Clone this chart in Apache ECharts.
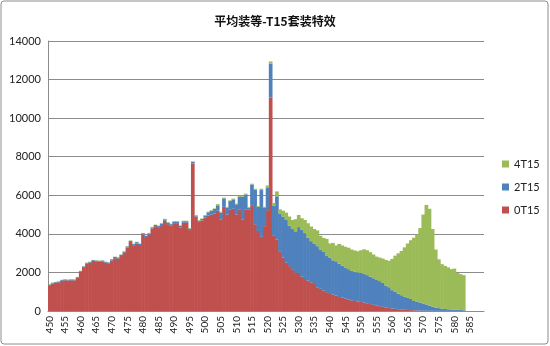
<!DOCTYPE html>
<html><head><meta charset="utf-8">
<script src="https://cdn.jsdelivr.net/npm/echarts@6/dist/echarts.min.js"></script>
<style>html,body{margin:0;padding:0;background:#fff}#c{width:550px;height:346px}</style>
</head><body><div id="c"></div>
<script>
// categories 450..589
var categories = [];
for (var c = 450; c <= 589; c++) categories.push(String(c));

var seriesNames = ['0T15', '2T15', '4T15'];

var red0T15 = [
1335,1420,1455,1490,1565,1595,1575,1595,1585,1715,
2035,2275,2455,2505,2595,2575,2555,2575,2505,2475,
2620,2740,2710,2850,3020,3290,3580,3410,3510,3420,
3970,3835,3970,4280,4400,4345,4455,4675,4505,4425,
4555,4555,4335,4575,4575,4195,7650,4900,4650,4700,
4850,4950,5000,5050,5200,4750,5400,5000,5250,5300,
5000,5250,4750,5250,5250,5450,4500,4150,3850,4400,
5230,11060,3900,3700,3100,2770,2500,2330,2170,2000,
1970,1780,1660,1575,1490,1400,1230,1150,1060,980,
930,860,810,725,690,640,600,555,520,500,
470,440,400,360,320,290,250,215,185,160,
130,110,95,80,65,55,45,35,28,22,
18,15,12,10,8,6,5,5,4,4,
3,3,2,2
];

var blue2T15 = [
40,40,40,40,40,40,40,40,40,40,
40,40,40,40,40,40,40,40,40,40,
60,60,60,60,60,60,60,60,60,60,
60,60,60,60,60,60,80,80,80,80,
80,80,80,80,80,80,80,50,40,70,
100,170,200,240,280,360,440,360,450,490,
530,680,1180,795,110,1110,1790,1240,2420,940,
1180,1760,1550,2250,1960,2130,2220,2090,2080,2130,
2380,2430,2380,2215,2130,2080,2130,2040,2000,1870,
1840,1770,1770,1735,1650,1620,1570,1535,1510,1500,
1500,1490,1460,1420,1380,1320,1300,1240,1135,1075,
950,880,805,740,675,625,575,485,442,418,
372,325,268,220,172,144,120,100,86,76,
67,57,48,38
];

var green4T15 = [
15,15,15,15,15,15,15,15,15,15,
15,15,15,15,15,15,15,15,15,15,
20,20,20,20,20,20,20,20,20,20,
20,20,20,20,20,20,25,25,25,25,
25,25,25,25,25,25,30,30,30,30,
30,30,30,30,60,40,40,40,40,40,
40,40,40,40,40,40,50,50,70,60,
100,120,150,250,210,300,380,480,470,630,
630,600,680,760,760,770,820,710,730,890,
730,900,820,1020,1060,1070,1110,1100,1110,1100,
1180,1270,1290,1270,1230,1210,1220,1265,1330,1365,
1620,1880,2090,2290,2560,2820,3050,3280,3490,3860,
4610,5160,5020,4020,3010,2530,2305,2235,2170,2090,
2130,1910,1860,1820
];

var colors = ['#C0504D', '#4F81BD', '#9BBB59'];
var chart = echarts.init(document.getElementById('c'), null, {renderer: 'canvas'});
var gridCol = '#8c8c8c';
chart.setOption({
  animation: false,
  backgroundColor: '#ffffff',
  title: {
    text: '平均装等-T15套装特效',
    left: 'center', top: 10,
    textStyle: {fontFamily: 'Noto Sans CJK SC', fontSize: 12, fontWeight: 'bold', color: '#111'}
  },
  graphic: [{
    type: 'rect', shape: {x: 1, y: 1, width: 547, height: 343, r: 3},
    style: {fill: 'none', stroke: '#8c8c8c', lineWidth: 1}, silent: true
  }],
  legend: {
    orient: 'vertical', left: 502, top: 157,
    data: ['4T15', '2T15', '0T15'],
    icon: 'rect', itemWidth: 7, itemHeight: 7, itemGap: 9, padding: 0,
    textStyle: {fontFamily: 'Lato', fontSize: 11, color: '#222', lineHeight: 14}
  },
  grid: {left: 48, right: 66, top: 41, bottom: 35, containLabel: false},
  xAxis: {
    type: 'category', data: categories, boundaryGap: true,
    axisLine: {lineStyle: {color: gridCol}},
    axisTick: {interval: 0, length: 3, lineStyle: {color: gridCol}},
    axisLabel: {interval: 4, rotate: 90, fontFamily: 'Lato', fontSize: 10, color: '#222', margin: 5}
  },
  yAxis: {
    type: 'value', min: 0, max: 14000, interval: 2000,
    axisLine: {show: true, lineStyle: {color: gridCol}},
    axisTick: {show: false},
    splitLine: {lineStyle: {color: gridCol, width: 1}},
    axisLabel: {fontFamily: 'Lato', fontSize: 11, color: '#222', margin: 7,
      formatter: function (v) { return String(v); }}
  },
  series: [
    {name: seriesNames[0], type: 'bar', stack: 's', data: red0T15, barWidth: 3.7, itemStyle: {color: colors[0]}},
    {name: seriesNames[1], type: 'bar', stack: 's', data: blue2T15, barWidth: 3.7, itemStyle: {color: colors[1]}},
    {name: seriesNames[2], type: 'bar', stack: 's', data: green4T15, barWidth: 3.7, itemStyle: {color: colors[2]}}
  ]
});
</script></body></html>
